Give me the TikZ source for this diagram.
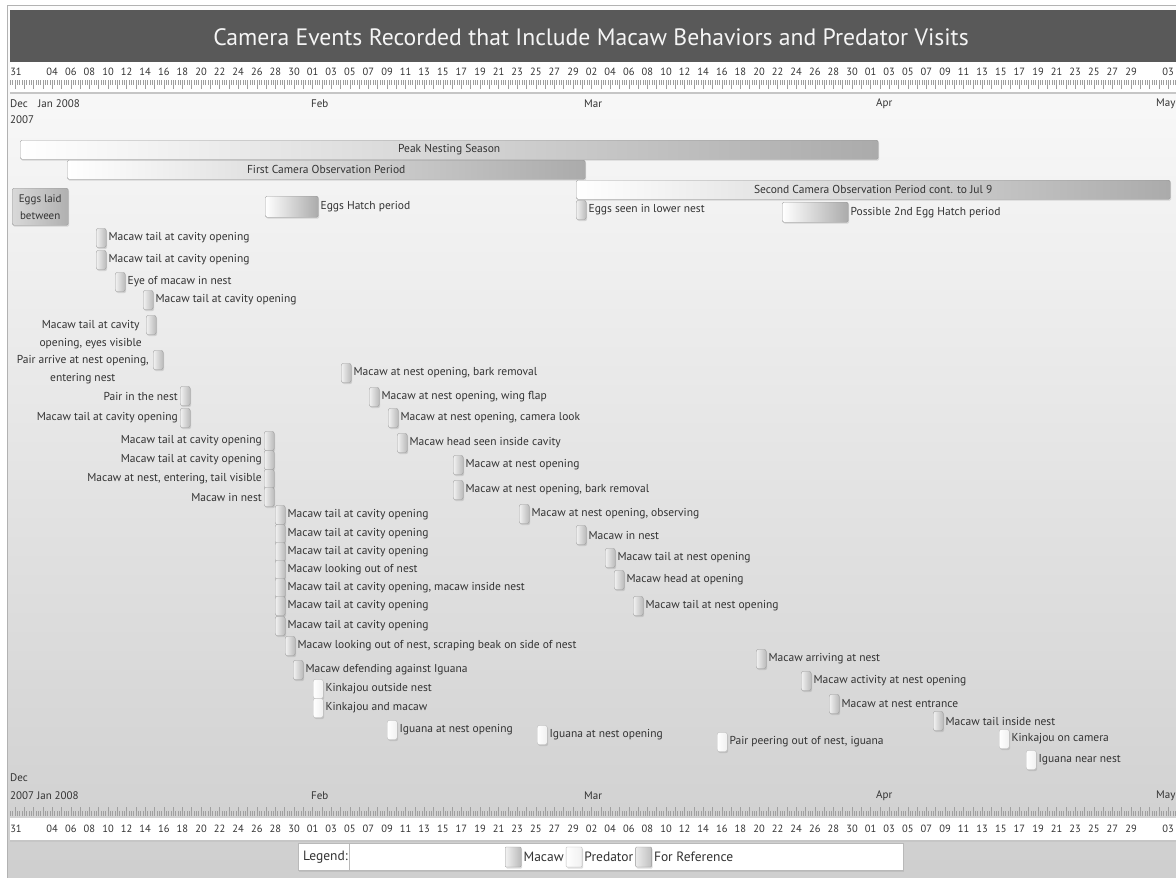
\documentclass[tikz,border=0pt]{standalone}
\usepackage{fontspec}
\setmainfont{PT Sans}
\usetikzlibrary{shadows}
\definecolor{ink}{HTML}{333333}
\definecolor{titlebg}{HTML}{595959}
\tikzset{
  every node/.style={text=ink},
  evtext/.style={font=\fontsize{11.5}{18}\selectfont, inner sep=2pt},
  mk/.style={rounded corners=2pt, minimum width=10pt, minimum height=19pt, inner sep=0pt,
    drop shadow={opacity=0.25,shadow xshift=1pt,shadow yshift=-1.5pt}},
  macaw/.style={mk, draw=gray!80, left color=gray!10, right color=gray!55},
  predator/.style={mk, draw=gray!55, left color=white, right color=gray!12},
  refbox/.style={rounded corners=1.5pt, draw=gray!80, left color=white, right color=gray!66,
    inner sep=0pt, drop shadow={opacity=0.25,shadow xshift=1pt,shadow yshift=-1.5pt},
    font=\fontsize{11.5}{13}\selectfont},
  num/.style={font=\fontsize{10.5}{12}\selectfont, inner sep=0pt, text=black!80},
  month/.style={font=\fontsize{11}{12}\selectfont, inner sep=0pt, anchor=west},
  tickline/.style={draw=gray!75, line width=0.5pt},
  legtext/.style={font=\fontsize{13.5}{15}\selectfont, inner sep=2pt, anchor=west},
  legsw/.style={minimum width=16pt, minimum height=20pt, rounded corners=1pt, anchor=west},
}
% event with label on the right: style, name, x-left, y-center, text
\newcommand\evR[5]{\node[#1, anchor=west] (#2) at (#3,#4) {};
  \node[evtext, anchor=west] (#2t) at (#2.east) {#5};}
% event with label on the left
\newcommand\evL[5]{\node[#1, anchor=west] (#2) at (#3,#4) {};
  \node[evtext, anchor=east] (#2t) at (#2.west) {#5};}
% day labels of an axis row at height #1, prefix #2
\newcommand\daylabels[2]{%
  \node[num] (#2d0) at (16,#1) {31};
  \foreach \l [count=\c] in {04,06,08,10,12,14,16,18,20,22,24,26,28,30}
    \node[num] (#2a\c) at ({15+9.3*(2+2*\c)},#1) {\l};
  \foreach \l [count=\c] in {01,03,05,07,09,11,13,15,17,19,21,23,25,27,29}
    \node[num] (#2b\c) at ({15+9.3*(30+2*\c)},#1) {\l};
  \foreach \l [count=\c] in {02,04,06,08,10,12,14,16,18,20,22,24,26,28,30}
    \node[num] (#2c\c) at ({15+9.3*(60+2*\c)},#1) {\l};
  \foreach \l [count=\c] in {01,03,05,07,09,11,13,15,17,19,21,23,25,27,29}
    \node[num] (#2e\c) at ({15+9.3*(90+2*\c)},#1) {\l};
  \node[num] (#2f) at ({15+9.3*124},#1) {03};
}
% ticks: base y #1, direction #2 (+1 down, -1 up)
\newcommand\dayticks[2]{%
  \foreach \i in {-2,...,499}{%
    \pgfmathtruncatemacro\m{mod(\i+400,4)}%
    \ifnum\m=0
      \draw[tickline] ({15+2.325*\i},#1) -- ++(0,{9*#2});
    \else
      \draw[tickline] ({15+2.325*\i},#1) -- ++(0,{5*#2});
    \fi}%
}

\begin{document}
\begin{tikzpicture}[x=1pt,y=-1pt]
\useasboundingbox (0,0) rectangle (1176,878);
\fill[white] (0,0) rectangle (1176,878);
% background panel
\shade[top color=gray!2, bottom color=gray!38] (8,5) rectangle (1176,878);
\draw[gray!60] (7.5,878) -- (7.5,5.5) -- (1176,5.5);

% title bar
\node[fill=titlebg, minimum width=1166pt, minimum height=52pt, anchor=north west, inner sep=0pt] (titlebar) at (10,10) {};
\node[text=gray!8, font=\fontsize{23.7}{27}\selectfont] (title) at (591,37) {Camera Events Recorded that Include Macaw Behaviors and Predator Visits};

% top axis
\fill[white] (10,62) rectangle (1176,92);
\draw[gray!45, line width=1.2pt] (10,93) -- (1176,93);
\daylabels{72}{t}
\dayticks{80}{1}
\node[month] (tdec) at (10,104) {Dec};
\node[month] (t2007) at (10,120) {2007};
\node[month] (tjan) at (38,104) {Jan 2008};
\node[month] (tfeb) at (311,104) {Feb};
\node[month] (tmar) at (584,104) {Mar};
\node[month] (tapr) at (876,104) {Apr};
\node[month] (tmay) at (1156,104) {May};

% reference bars
\node[refbox, minimum width=858pt, minimum height=19pt, anchor=north west] (peak) at (20,140) {Peak Nesting Season};
\node[refbox, minimum width=518pt, minimum height=19pt, anchor=north west] (cam1) at (67,160) {First Camera Observation Period};
\node[refbox, minimum width=594pt, minimum height=19pt, anchor=north west] (cam2) at (576,180) {Second Camera Observation Period cont. to Jul 9};
\node[refbox, left color=gray!30, right color=gray!62, minimum width=56pt, minimum height=37pt, anchor=north west, align=center, font=\fontsize{11}{17}\selectfont] (eggslaid) at (12,188) {Eggs laid\\between};
\node[refbox, minimum width=53pt, minimum height=21pt, anchor=north west] (hatch) at (265,196) {};
\node[evtext, anchor=west] (hatcht) at (hatch.east) {Eggs Hatch period};
\evR{macaw}{eggseen}{576}{210}{Eggs seen in lower nest}
\node[refbox, minimum width=66pt, minimum height=20pt, anchor=north west] (hatch2) at (782,202) {};
\node[evtext, anchor=west] (hatch2t) at (hatch2.east) {Possible 2nd Egg Hatch period};

% left group
\evR{macaw}{e1}{96}{238}{Macaw tail at cavity opening}
\evR{macaw}{e2}{96}{260}{Macaw tail at cavity opening}
\evR{macaw}{e3}{115}{282}{Eye of macaw in nest}
\evR{macaw}{e4}{143}{300}{Macaw tail at cavity opening}
\node[macaw, anchor=west] (e5) at (146,325) {};
\node[evtext, anchor=north east, align=center] (e5t) at (144,318) {Macaw tail at cavity\\opening, eyes visible};
\node[macaw, anchor=west] (e6) at (153,360) {};
\node[evtext, anchor=north east, align=center] (e6t) at (151,353) {Pair arrive at nest opening,\\entering nest};
\evL{macaw}{e7}{180}{396}{Pair in the nest}
\evL{macaw}{e8}{180}{418}{Macaw tail at cavity opening}
\evL{macaw}{e9}{264}{441}{Macaw tail at cavity opening}
\evL{macaw}{e10}{264}{460}{Macaw tail at cavity opening}
\evL{macaw}{e11}{264}{479}{Macaw at nest, entering, tail visible}
\evL{macaw}{e12}{264}{497}{Macaw in nest}
\evR{macaw}{e13}{275}{515}{Macaw tail at cavity opening}
\evR{macaw}{e14}{275}{534}{Macaw tail at cavity opening}
\evR{macaw}{e15}{275}{552}{Macaw tail at cavity opening}
\evR{macaw}{e16}{275}{570}{Macaw looking out of nest}
\evR{macaw}{e17}{275}{588}{Macaw tail at cavity opening, macaw inside nest}
\evR{macaw}{e18}{275}{606}{Macaw tail at cavity opening}
\evR{macaw}{e19}{275}{626}{Macaw tail at cavity opening}
\evR{macaw}{e20}{285}{646}{Macaw looking out of nest, scraping beak on side of nest}
\evR{macaw}{e21}{293}{670}{Macaw defending against Iguana}
\evR{predator}{e22}{313}{689}{Kinkajou outside nest}
\evR{predator}{e23}{313}{708}{Kinkajou and macaw}
\evR{predator}{e24}{387}{730}{Iguana at nest opening}
\evR{predator}{e25}{537}{735}{Iguana at nest opening}

% middle and right groups
\evR{macaw}{e26}{341}{373}{Macaw at nest opening, bark removal}
\evR{macaw}{e27}{369}{397}{Macaw at nest opening, wing flap}
\evR{macaw}{e28}{388}{418}{Macaw at nest opening, camera look}
\evR{macaw}{e29}{397}{443}{Macaw head seen inside cavity}
\evR{macaw}{e30}{453}{465}{Macaw at nest opening}
\evR{macaw}{e31}{453}{490}{Macaw at nest opening, bark removal}
\evR{macaw}{e32}{519}{514}{Macaw at nest opening, observing}
\evR{macaw}{e33}{576}{535}{Macaw in nest}
\evR{macaw}{e34}{605}{558}{Macaw tail at nest opening}
\evR{macaw}{e35}{614}{580}{Macaw head at opening}
\evR{macaw}{e36}{633}{606}{Macaw tail at nest opening}
\evR{macaw}{e37}{756}{659}{Macaw arriving at nest}
\evR{macaw}{e38}{801}{681}{Macaw activity at nest opening}
\evR{macaw}{e39}{829}{704}{Macaw at nest entrance}
\evR{macaw}{e40}{933}{721}{Macaw tail inside nest}
\evR{predator}{e41}{717}{742}{Pair peering out of nest, iguana}
\evR{predator}{e42}{999}{739}{Kinkajou on camera}
\evR{predator}{e43}{1026}{760}{Iguana near nest}

% bottom axis
\node[month] (bdec) at (10,778) {Dec};
\node[month] (bjan) at (10,796) {2007 Jan 2008};
\node[month] (bfeb) at (311,796) {Feb};
\node[month] (bmar) at (584,796) {Mar};
\node[month] (bapr) at (876,796) {Apr};
\node[month] (bmay) at (1156,796) {May};
\dayticks{816}{-1}
\fill[white] (10,818) rectangle (1176,840);
\draw[gray!45, line width=1.2pt] (10,841) -- (1176,841);
\daylabels{829}{b}

% legend
\node[draw=gray!55, fill=white, minimum width=605pt, minimum height=27pt, anchor=north west, inner sep=0pt,
  drop shadow={opacity=0.2,shadow xshift=1pt,shadow yshift=-1.5pt}] (legbox) at (298,843) {};
\draw[gray!55] (349,843) -- (349,870);
\node[legtext] (legl) at (301,857) {Legend:};
\node[macaw, legsw] (lgm) at (505,857) {};
\node[legtext] (lgmt) at (lgm.east) {Macaw};
\node[predator, legsw] (lgp) at (lgmt.east) {};
\node[legtext] (lgpt) at (lgp.east) {Predator};
\node[refbox, left color=gray!15, right color=gray!50, legsw] (lgr) at (lgpt.east) {};
\node[legtext] (lgrt) at (lgr.east) {For Reference};
\end{tikzpicture}
\end{document}
